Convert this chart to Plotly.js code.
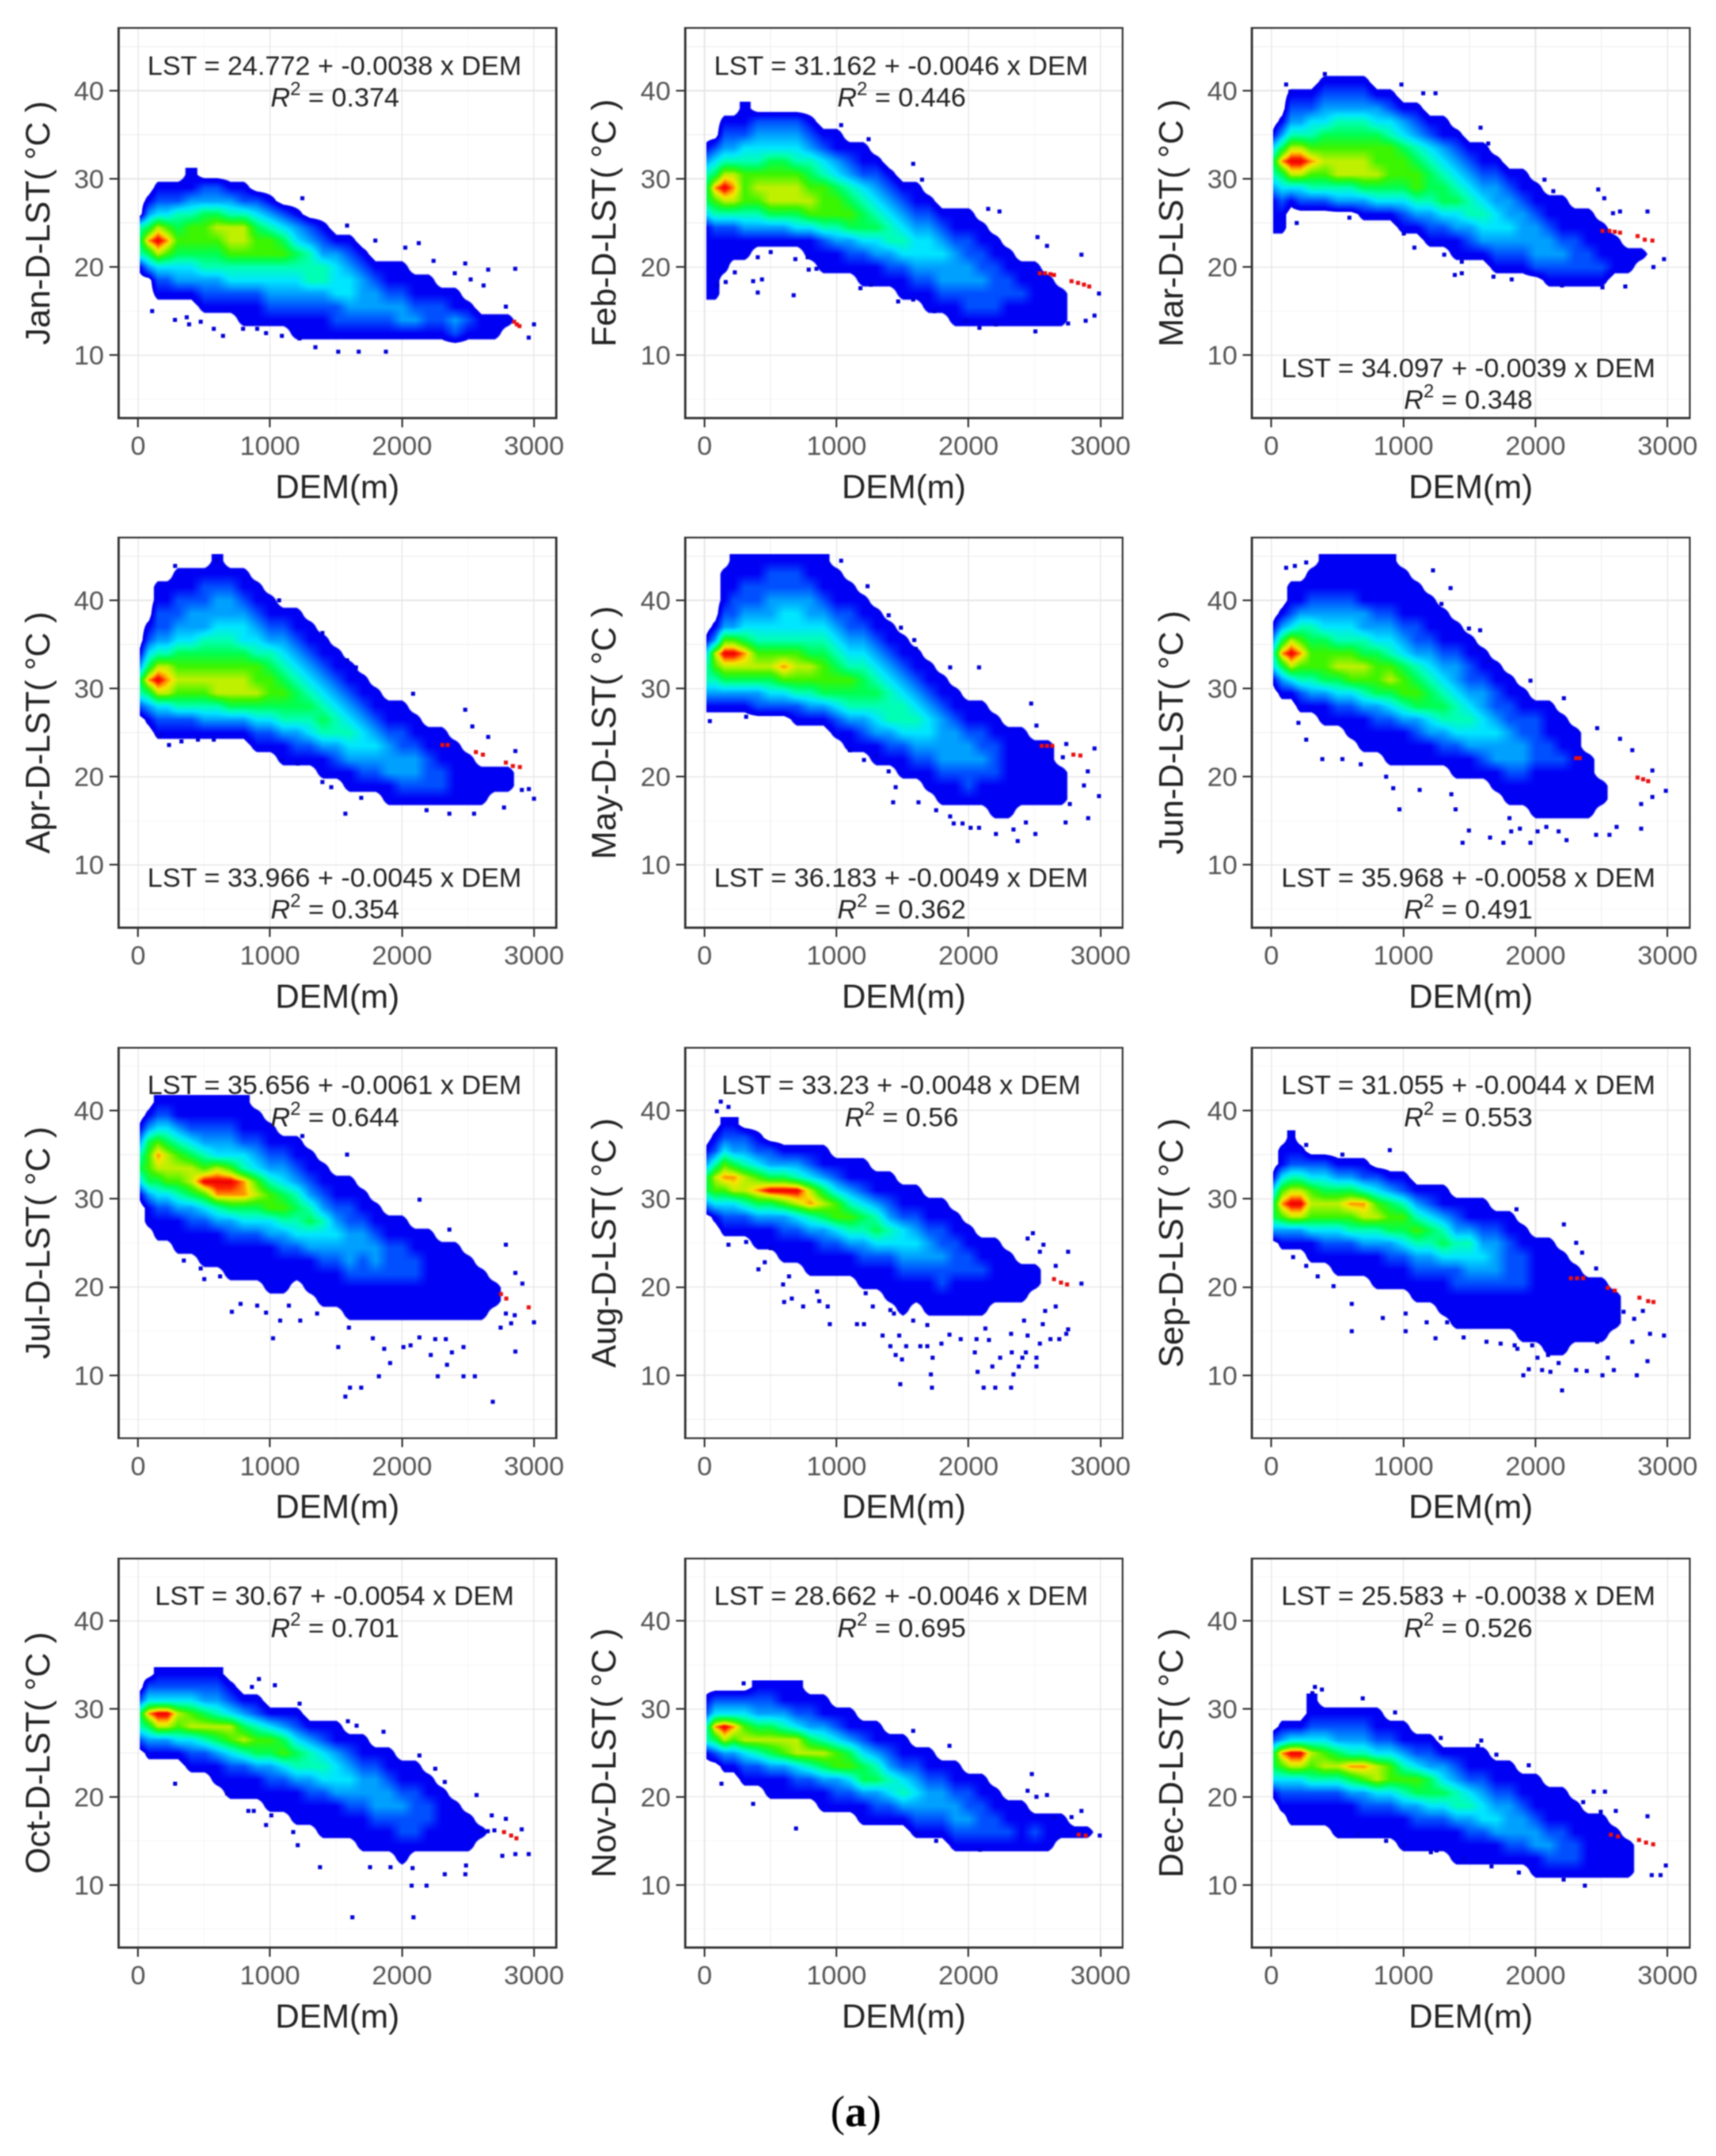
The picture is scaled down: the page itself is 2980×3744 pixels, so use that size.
<!DOCTYPE html>
<html>
<head>
<meta charset="utf-8">
<script src="https://cdn.plot.ly/plotly-3.0.1.min.js"></script>
<style>
  html, body { margin: 0; padding: 0; background: #fff; }
  #plot { width: 2980px; height: 3744px; filter: blur(1px); }
</style>
</head>
<body>
<div id="plot"></div>
<script>
const months = ['Jan', 'Feb', 'Mar', 'Apr', 'May', 'Jun', 'Jul', 'Aug', 'Sep', 'Oct', 'Nov', 'Dec'];
const intercepts = ['24.772', '31.162', '34.097', '33.966', '36.183', '35.968', '35.656', '33.23', '31.055', '30.67', '28.662', '25.583'];
const slopes = ['0.0038', '0.0046', '0.0039', '0.0045', '0.0049', '0.0058', '0.0061', '0.0048', '0.0044', '0.0054', '0.0046', '0.0038'];
const rSquared = ['0.374', '0.446', '0.348', '0.354', '0.362', '0.491', '0.644', '0.56', '0.553', '0.701', '0.695', '0.526'];
const labelLow = [false, false, true, true, true, true, false, false, false, false, false, false];

// density, level 0-a per cell, one string per DEM column, top row first
const demNodes = [15, 80, 150, 220, 300, 400, 500, 600, 700, 800, 900, 1000, 1100, 1200, 1300, 1400, 1500, 1600, 1700, 1800, 1900, 2000, 2100, 2200, 2300, 2400, 2500, 2600, 2700, 2800, 2900, 3000];
const rowStep = 1.5;

const janTop = 30.5;
const janCols = ['00005651', '00136963', '01248a8421', '0124797421', '0125676431', '1135776431', '02367765321', '02368765321', '01358875421', '012588754211', '002467754211', '001357754321', '000246754321', '0001346543211', '0000235553211', '0000123553211', '0000013444221', '0000012344321', '0000001233321', '0000000123321', '0000000112321', '0000000112331', '0000000011231', '0000000011221', '0000000001221', '0000000001132', '0000000000121', '0000000000011', '0000000000011', '000000000001'];

const febTop = 38;
const febCols = ['000135664111111', '000246975211111', '012358a852111', '012358985211', '112457775311', '02345787531', '02346788631', '02346788631', '02345788641', '012356787411', '0012457775211', '0011346775311', '0001235676321', '00011245664211', '00001234564311', '00000123455321', '000000123454211', '000000112344321', '0000000123443211', '0000000012343321', '00000000112333211', '00000000112233221', '00000000011223221', '00000000001122221', '00000000000112211', '00000000000011211', '00000000000011111', '00000000000001111', '00000000000000111'];

const marTop = 42.5;
const marCols = ['0000014653111', '0000136964211', '0012358a841', '0012358a842', '00124579752', '01234678752', '01235678853', '01235678853', '012356788631', '001346778641', '001245777641', '0001346776421', '0001235677531', '00001245665321', '00001134566421', '000001234564311', '000000123455321', '000000112345431', '0000000123344321', '0000000012334321', '0000000011233321', '0000000001123332', '00000000001123321', '00000000001112321', '00000000000112221', '00000000000111221', '00000000000011121', '0000000000000111', '0000000000000011', '000000000000001'];

const aprTop = 44.5;
const aprCols = ['000000013652', '0000012469631', '001122358a8421', '00112235898421', '01122346787521', '01123346787521', '01223356787531', '11233456788531', '01233456788631', '01123446788631', '001123457786421', '000112356776421', '0000123456765311', '0000112345665321', '0000011234565421', '00000011234565311', '00000001123455321', '000000001123454311', '000000000112344321', '000000000011234321', '0000000000011233311', '0000000000011223321', '0000000000001123321', '0000000000000112221', '0000000000000111221', '0000000000000011111', '0000000000000001111', '0000000000000000111', '000000000000000011', '000000000000000011'];

const mayTop = 44.5;
const mayCols = ['000000145531', '000001387531', '0111237a8631', '1112237a8631', '112234698631', '112234578632', '122334578642', '122344579742', '1223445787521', '1123345687531', '1112345677631', '01112345676421', '001122345765311', '000112345665321', '0000112345654311', '0000011234555321', '00000011234554211', '00000001123454321', '000000001123443211', '0000000001123333211', '0000000000112333211', '0000000000011233221', '0000000000011223211', '00000000000011222111', '00000000000001111111', '0000000000000111111', '0000000000000011111', '0000000000000011111', '0000000000000000111'];

const junTop = 44.5;
const junCols = ['0000013541', '00001369631', '0011248a841', '001135797521', '011235677531', '1112346776311', '1112345786421', '11123457874211', '111133568753111', '111123467763211', '1111234578642111', '0111123467753111', '0011122356763211', '0001112345664311', '0000111234565321', '00000112334554211', '00000011223454311', '00000001123344321', '000000001122343311', '0000000001122333211', '0000000000112233211', '00000000000122221111', '00000000000111221111', '00000000000011121111', '00000000000001111111', '00000000000000011111', '0000000000000000011'];

const julTop = 41;
const julCols = ['00135641', '0136776311', '12479864211', '12468874211', '113578753111', '112468863211', '112357a742111', '112348a953111', '112347a9632111', '11124599642111', '01123478642111', '001123577431111', '000123467532111', '00011235654211', '000011235643111', '0000011235432111', '0000001123432111', '00000011223332111', '00000001123322111', '00000000112332111', '00000000011222111', '00000000011222111', '00000000001122111', '00000000001111111', '00000000000111111', '00000000000111111', '00000000000011111', '00000000000001111', '0000000000000011'];

const augTop = 38.5;
const augCols = ['0013663', '01258741', '124797421', '123698421', '023588521', '0124796311', '00236a6311', '00136a73211', '00135a84211', '001248953111', '001136863211', '000124774211', '000113575311', '0001124653211', '0000113564211', '00001123542111', '000001124432111', '00000112343211', '000000112332111', '000000112232211', '000000011222111', '000000001122111', '000000000112111', '00000000011111', '00000000001111', '00000000000111', '0000000000011'];

const sepTop = 37;
const sepCols = ['00014663', '011479731', '11258a831', '01258a831', '0024787411', '0024687421', '00136874211', '00136975211', '00125985311', '000247853111', '000136763211', '000125764211', '0000135753211', '0000124653211', '00001135642111', '000001235422111', '000001135432111', '000001123432111', '000000123332111', '000000112222111', '0000000112221111', '0000000011111111', '00000000111111111', '00000000011111111', '0000000000111111', '0000000000011111', '0000000000011111', '000000000000111'];

const octTop = 34;
const octCols = ['002652', '0249631', '124a831', '124a831', '1248741', '12478421', '12368521', '123586311', '0124874211', '0013685211', '0012576311', '00014763211', '00013674211', '000124653111', '000013553211', '0000124542111', '0000113443111', '0000012343211', '00000112332111', '00000012333211', '00000011233211', '000000011232211', '00000001122221', '00000000112211', '00000000011111', '00000000001111', '00000000000111', '0000000000001'];

const novTop = 32.5;
const novCols = ['012551', '024962', '024a831', '0249731', '02478421', '12368521', '123686311', '113587311', '112488421', '012368521', '0113586311', '0012477321', '0011367421', '00012466311', '00011356321', '00001235421', '00001124531', '000001234321', '000001123321', '000000123321', '0000001123321', '0000000122321', '0000000112221', '0000000011221', '0000000001121', '0000000001111', '0000000000121', '0000000000111', '000000000011', '000000000001', '000000000001'];

const decTop = 31;
const decCols = ['00026641', '001397421', '0014a84211', '0014a84211', '1124875211', '0124785211', '01236852111', '01235963111', '01235973211', '01124884211', '00124774211', '001135753111', '000124763211', '000123664211', '000013464211', '0000123553111', '0000112453211', '0000112344211', '0000011234311', '0000011233321', '0000001123321', '00000011123311', '00000001112321', '00000001112221', '00000000111221', '00000000011111', '00000000011111', '00000000001111', '00000000000111'];

// scattered dots outside the dense cloud
const janDotsX = [107, 280, 369, 387, 475, 574, 644, 796, 903, 970, 1090, 1224, 1344, 1517, 1672, 1878, 2858, 2787, 2960, 3000, 2618, 2479, 2653, 2239, 2127, 1584, 1245, 1798, 2025, 2400, 2520];
const janDotsY = [15, 14, 14.3, 13.5, 13.8, 13, 12.2, 13, 13, 12.5, 12.2, 11.9, 10.9, 10.4, 10.4, 10.4, 19.8, 15.5, 12, 13.5, 17.9, 20.4, 19.7, 20.7, 22.7, 24.7, 27.8, 23, 22.2, 19.3, 18.6];
const febDotsX = [160, 96, 229, 403, 368, 435, 403, 501, 675, 688, 781, 789, 848, 1181, 1261, 1467, 1581, 1741, 1981, 2083, 2208, 2507, 2755, 2888, 2955, 2989, 2856, 2523, 2595, 2235, 2149, 1648, 1581, 1243, 1035];
const febDotsY = [18.3, 17.9, 19.4, 17.1, 18.4, 18.6, 21.1, 21.7, 16.8, 20.9, 21.1, 19.7, 19.8, 17.6, 18, 16.1, 16.3, 15, 13.9, 13.1, 13.5, 12.7, 13.6, 13.9, 14.5, 17, 21.4, 23.4, 22.4, 26.3, 26.6, 29.9, 31.7, 34.5, 36.1];
const marDotsX = [112, 144, 405, 985, 1243, 1150, 1584, 1642, 2068, 2135, 2475, 2521, 2848, 2640, 2587, 2973, 2893, 2680, 2507, 2201, 1820, 1682, 1442, 1389, 1442, 1309, 1083, 1003, 192, 591];
const marDotsY = [40.7, 39.9, 41.9, 40.7, 39.7, 39.7, 35.8, 34, 29.9, 28.6, 28.8, 27.8, 26.3, 26.3, 26.1, 20.9, 20, 17.8, 17.7, 17.9, 18.6, 18.9, 19.3, 19.1, 20.6, 21.4, 22.2, 23.8, 25, 25.6];
const aprDotsX = [281, 596, 1069, 1397, 1584, 1651, 2084, 2479, 2533, 2653, 2859, 3000, 2773, 2546, 2359, 1571, 1691, 1397, 1464, 1090, 1210, 235, 329, 454, 574, 168, 2186, 2908, 2961];
const aprDotsY = [43.9, 44.5, 40, 36.3, 33.2, 32.4, 29.4, 27.6, 25.7, 24.5, 22.9, 17.5, 16.5, 15.8, 15.8, 15.8, 17.6, 19.4, 18.8, 21.9, 21.5, 23.6, 24, 24.2, 24.2, 24.7, 16.2, 18.5, 18.6];
const mayDotsX = [40, 315, 1035, 1235, 1395, 1488, 1589, 1600, 1861, 2080, 2475, 2515, 2955, 2989, 2907, 2507, 2373, 2208, 2341, 2080, 2016, 1888, 1955, 1861, 1429, 1621, 1448, 1395, 1208, 1301, 1101, 2741, 2768, 2736, 2435, 1755, 2904, 2875, 2715];
const mayDotsY = [26.3, 26.8, 44.5, 41.6, 38.3, 36.9, 35.5, 34.5, 32.4, 32.4, 28.3, 25.8, 23.2, 17.8, 15.3, 13.5, 12.7, 13.5, 14, 14.2, 14.2, 14.7, 14.7, 15.5, 17.1, 17.1, 18.8, 20.6, 21.9, 22.4, 23, 23.7, 16.9, 14.8, 14.8, 16.2, 20.6, 19, 22.2];
const junDotsX = [112, 178, 264, 1224, 1357, 1288, 1496, 1581, 1563, 1642, 1962, 2215, 2467, 2640, 2733, 2885, 2987, 2885, 2800, 2800, 2560, 2459, 2235, 1962, 1757, 1656, 1448, 1496, 1395, 970, 1123, 923, 869, 1363, 386, 538, 677, 264, 205, 1882, 1816, 2016, 2082, 2175, 1803, 2614];
const junDotsY = [43.7, 43.9, 44.3, 43.4, 41.4, 39.6, 36.8, 36.6, 34.5, 33.1, 30.9, 28.9, 25.5, 24.3, 23, 20.7, 18.4, 17.7, 16.9, 14.1, 13.4, 13.4, 12.8, 12.5, 12.5, 13.1, 12.5, 13.9, 16.3, 16.3, 18.5, 18.7, 20, 18, 22, 22, 21.4, 24.2, 26.1, 14.1, 13.8, 13.8, 14.3, 13.8, 15.3, 14.3];
const julDotsX = [2133, 1584, 1245, 2359, 2787, 2859, 2912, 3000, 2859, 2688, 2552, 2466, 2271, 2341, 2218, 1910, 1825, 1691, 1606, 1571, 1517, 1023, 1077, 1229, 711, 777, 622, 502, 347, 475, 2011, 1865, 2378, 2466, 1779, 2065, 2132, 2252, 2332, 903, 970, 1143, 1357, 1598, 2787, 2854, 2747, 2827];
const julDotsY = [29.9, 35, 37.1, 26.5, 24.8, 21.6, 20.4, 16, 12.7, 7, 9.9, 9.9, 9.9, 11.2, 12.3, 11.4, 9.9, 8.6, 8.6, 7.6, 13.2, 14.2, 16.2, 16.2, 17.2, 18.1, 21.2, 20.9, 23, 22.1, 13.2, 13, 12.6, 13.2, 14.2, 13.4, 14.3, 14.1, 14.1, 17.9, 17.1, 17.9, 17, 15.4, 17, 16.8, 15.4, 15.9];
const augDotsX = [123, 181, 93, 181, 315, 408, 456, 501, 595, 640, 603, 661, 747, 853, 869, 933, 949, 1155, 1208, 1221, 1275, 1349, 1408, 1448, 1496, 1483, 1528, 1635, 1688, 1475, 1715, 1723, 1728, 1795, 1856, 1941, 2048, 2069, 2115, 2203, 2323, 2341, 2181, 2381, 2240, 2328, 2435, 2515, 2515, 2408, 2448, 2541, 2621, 2688, 2741, 2755, 2563, 2661, 2581, 2856, 2755, 2568, 2488, 2448, 2541, 2661, 2061, 2155, 2323, 2128, 2421, 1435, 1581, 1688, 1408];
const augDotsY = [41, 40.4, 39.9, 24.8, 25.1, 22, 22.8, 24.4, 20.3, 21.2, 18.3, 18.7, 17.8, 19.5, 18.4, 17.8, 15.8, 15.8, 15.8, 19.3, 17.8, 14.5, 13.3, 12.3, 11.8, 9, 13.3, 13.3, 13.3, 14.5, 10.1, 8.6, 12, 13.6, 14.6, 14.1, 12.6, 10.4, 8.6, 8.6, 8.6, 10.1, 11, 11, 12, 12.6, 12.6, 12, 11, 12, 14.5, 13.6, 14.1, 14.1, 14.7, 15.2, 15.8, 17.8, 17.3, 20.4, 24, 24.8, 26.1, 25.5, 24, 22.4, 14.1, 14, 14.7, 15.3, 16.2, 17, 16.2, 15.7, 17.4];
const sepDotsX = [264, 538, 897, 1856, 2215, 2308, 2353, 2459, 165, 264, 351, 471, 609, 609, 844, 1017, 1017, 1176, 1243, 1331, 1456, 1629, 1863, 1908, 1949, 2050, 2113, 2201, 2507, 2593, 2767, 2848, 2547, 2388, 2308, 2973, 2867, 2733, 2747, 2813, 2667, 2467, 2175, 2095, 2015, 1842, 1736, 1975];
const sepDotsY = [36.1, 35, 35.5, 28.8, 27.1, 25, 23.9, 22.1, 23.4, 22.4, 21.2, 20.1, 18.1, 15, 16.5, 17, 15, 16, 14.2, 16, 14.3, 13.8, 13, 10, 10.7, 10.6, 10.4, 8.3, 10, 10.6, 10, 11.6, 12, 10.5, 10.6, 14.5, 14.7, 13.8, 16.4, 17.3, 17.2, 13.8, 11.4, 12.3, 12, 13.4, 13.6, 13.4];
const octDotsX = [281, 916, 863, 1037, 1224, 1590, 1656, 1860, 2132, 2252, 2324, 2565, 2680, 2787, 2907, 2960, 2859, 2760, 2485, 2480, 2324, 2186, 2073, 2087, 1624, 1758, 1913, 2080, 1379, 1176, 1210, 970, 1010, 836, 877, 676, 2600, 2650, 2700];
const octDotsY = [21.5, 33.4, 32.5, 32.7, 30.6, 28.6, 28.1, 27.4, 24.7, 23.2, 21.7, 20.2, 17.9, 17.5, 16.3, 13.5, 13.5, 13.3, 12.2, 11.2, 11.2, 9.9, 9.9, 6.3, 6.3, 12, 12, 11.9, 12, 16, 14.5, 16.8, 17.9, 18.4, 18.4, 20.4, 16.1, 16.1, 16.2];
const novDotsX = [296, 128, 368, 693, 1856, 1581, 2480, 2448, 2595, 2515, 2648, 2856, 2781, 2995, 2088, 1755, 1608];
const novDotsY = [32.9, 21.5, 19.2, 16.4, 25.8, 27.5, 22.6, 20.7, 20.2, 20, 17.6, 18.4, 17.7, 15.6, 14, 15, 15.8];
const decDotsX = [330, 383, 311, 692, 937, 1283, 1589, 1563, 1704, 1949, 2441, 2526, 2361, 2494, 2608, 2848, 2987, 2880, 2947, 2374, 2213, 1874, 1667, 1456, 1208, 1251, 1003, 869, 657];
const decDotsY = [32.5, 32.2, 31.8, 31.2, 29.6, 26.7, 26.4, 25.8, 24.8, 23.6, 20.6, 20.6, 19.4, 18.3, 18.4, 17.8, 12.2, 11.1, 11.1, 9.9, 10.6, 11.4, 12.1, 13, 13.7, 13.9, 14.5, 15, 15.7];

// small red streaks at the high end
const janRedX = [2850, 2870, 2890];
const janRedY = [13.8, 13.5, 13.3];
const febRedX = [2541, 2580, 2620, 2648, 2781, 2830, 2875, 2915];
const febRedY = [19.3, 19.3, 19.2, 19.1, 18.4, 18.2, 18, 17.8];
const marRedX = [2507, 2560, 2600, 2640, 2773, 2827, 2885];
const marRedY = [24.1, 24.1, 24, 23.9, 23.5, 23.1, 23];
const aprRedX = [2306, 2346, 2560, 2613, 2787, 2840, 2893];
const aprRedY = [23.6, 23.6, 22.8, 22.5, 21.6, 21.2, 21.1];
const mayRedX = [2555, 2595, 2635, 2795, 2848];
const mayRedY = [23.5, 23.5, 23.5, 22.5, 22.4];
const junRedX = [2308, 2335, 2773, 2815, 2853];
const junRedY = [22.1, 22.1, 19.9, 19.7, 19.5];
const julRedX = [2750, 2790, 2960];
const julRedY = [19.2, 18.7, 17.7];
const augRedX = [2648, 2701, 2747];
const augRedY = [20.9, 20.5, 20.3];
const sepRedX = [2268, 2315, 2361, 2547, 2600, 2787, 2853, 2893];
const sepRedY = [21, 21, 21, 19.9, 19.6, 18.8, 18.4, 18.3];
const octRedX = [2773, 2827, 2867];
const octRedY = [16, 15.6, 15.3];
const novRedX = [2835, 2888];
const novRedY = [15.7, 15.6];
const decRedX = [2571, 2624, 2784, 2837, 2891];
const decRedY = [15.7, 15.5, 15.1, 14.8, 14.6];

const tops = [janTop, febTop, marTop, aprTop, mayTop, junTop, julTop, augTop, sepTop, octTop, novTop, decTop];
const allCols = [janCols, febCols, marCols, aprCols, mayCols, junCols, julCols, augCols, sepCols, octCols, novCols, decCols];
const allDotsX = [janDotsX, febDotsX, marDotsX, aprDotsX, mayDotsX, junDotsX, julDotsX, augDotsX, sepDotsX, octDotsX, novDotsX, decDotsX];
const allDotsY = [janDotsY, febDotsY, marDotsY, aprDotsY, mayDotsY, junDotsY, julDotsY, augDotsY, sepDotsY, octDotsY, novDotsY, decDotsY];
const allRedX = [janRedX, febRedX, marRedX, aprRedX, mayRedX, junRedX, julRedX, augRedX, sepRedX, octRedX, novRedX, decRedX];
const allRedY = [janRedY, febRedY, marRedY, aprRedY, mayRedY, junRedY, julRedY, augRedY, sepRedY, octRedY, novRedY, decRedY];

const W = 2980, H = 3744;
const colEdges = [[207.6, 964], [1191.5, 1947.7], [2175.7, 2932.6]];
const rowEdges = [[50.3, 724], [935.4, 1609], [1821, 2495.7], [2708, 3380]];

const densityScale = [
  [0, 'rgba(0,0,255,0)'], [0.05, 'rgba(0,0,255,0)'], [0.06, 'rgb(0,0,240)'], [0.1, 'rgb(0,0,245)'],
  [0.2, 'rgb(0,80,255)'], [0.3, 'rgb(0,160,255)'], [0.4, 'rgb(0,230,255)'], [0.5, 'rgb(0,255,180)'],
  [0.6, 'rgb(0,255,80)'], [0.7, 'rgb(60,245,0)'], [0.8, 'rgb(190,240,0)'], [0.85, 'rgb(245,230,0)'],
  [0.9, 'rgb(255,150,0)'], [0.95, 'rgb(255,40,0)'], [1, 'rgb(240,0,0)']
];

const sans = '"Liberation Sans", Arial, sans-serif';

// columns come per DEM node, heatmap wants rows
function buildGrid(cols, top) {
  const nRows = Math.max(...cols.map(c => c.length)) + 1;
  const y = [];
  for (let r = 0; r < nRows; r++) y.push(top - r * rowStep);
  const z = y.map((_, r) => {
    const row = [0];
    demNodes.forEach((_, c) => {
      const s = cols[c] || '';
      row.push(r < s.length ? parseInt(s[r], 16) : 0);
    });
    return row;
  });
  return { x: [demNodes[0] - 1, ...demNodes], y, z };
}

const traces = [];
const layout = {
  width: W, height: H, margin: { l: 0, r: 0, t: 0, b: 0 },
  paper_bgcolor: '#fff', plot_bgcolor: '#fff', showlegend: false,
  font: { family: sans, size: 47, color: '#222' },
  annotations: [{
    xref: 'paper', yref: 'paper', x: 1486 / W, y: 1 - 3666 / H, xanchor: 'center', yanchor: 'middle',
    showarrow: false, text: '(<b>a</b>)', font: { family: '"Liberation Serif", serif', size: 76, color: '#000' }
  }]
};

months.forEach((m, i) => {
  const col = i % 3, row = Math.floor(i / 3);
  const n = i === 0 ? '' : String(i + 1);
  const xRef = 'x' + n, yRef = 'y' + n;
  const grid = buildGrid(allCols[i], tops[i]);

  traces.push({
    type: 'heatmap', x: grid.x, y: grid.y, z: grid.z, xaxis: xRef, yaxis: yRef,
    zmin: 0, zmax: 10, zsmooth: 'best', colorscale: densityScale, showscale: false, hoverinfo: 'skip'
  });
  traces.push({
    type: 'scatter', mode: 'markers', x: allDotsX[i], y: allDotsY[i], xaxis: xRef, yaxis: yRef,
    marker: { symbol: 'square', size: 7, color: '#0000d8' }, hoverinfo: 'skip'
  });
  traces.push({
    type: 'scatter', mode: 'markers', x: allRedX[i], y: allRedY[i], xaxis: xRef, yaxis: yRef,
    marker: { symbol: 'square', size: 7, color: '#e81010' }, hoverinfo: 'skip'
  });

  layout['xaxis' + n] = {
    domain: [colEdges[col][0] / W, colEdges[col][1] / W], anchor: yRef,
    range: [-140, 3160], dtick: 1000, tick0: 0, ticks: 'outside', ticklen: 14, tickwidth: 3, tickcolor: '#333',
    tickfont: { family: sans, size: 47, color: '#555' }, ticklabelstandoff: -8,
    showline: true, mirror: true, linecolor: '#333', linewidth: 3.5,
    showgrid: true, gridcolor: '#e8e8e8', gridwidth: 2.2, zeroline: false,
    minor: { dtick: 500, tick0: 0, showgrid: true, gridcolor: '#f2f2f2', gridwidth: 1.5, ticks: '' },
    title: { text: 'DEM(m)', font: { family: sans, size: 58, color: '#222' }, standoff: 26 }
  };
  layout['yaxis' + n] = {
    domain: [1 - rowEdges[row][1] / H, 1 - rowEdges[row][0] / H], anchor: xRef,
    range: [3, 47], dtick: 10, tick0: 0, ticks: 'outside', ticklen: 14, tickwidth: 3, tickcolor: '#333',
    tickfont: { family: sans, size: 47, color: '#555' },
    showline: true, mirror: true, linecolor: '#333', linewidth: 3.5,
    showgrid: true, gridcolor: '#e8e8e8', gridwidth: 2.2, zeroline: false,
    minor: { dtick: 5, tick0: 0, showgrid: true, gridcolor: '#f2f2f2', gridwidth: 1.5, ticks: '' },
    title: { text: m + '-D-LST( °C )', font: { family: sans, size: 59, color: '#222' }, standoff: 24 }
  };

  const eqY = labelLow[i] ? 8.6 : 42.9;
  const r2Y = labelLow[i] ? 5.2 : 39.5;
  layout.annotations.push({
    xref: xRef, yref: yRef, x: 1490, y: eqY, showarrow: false, xanchor: 'center', yanchor: 'middle',
    text: 'LST = ' + intercepts[i] + ' + -' + slopes[i] + ' x DEM', font: { family: sans, size: 47, color: '#222' }
  });
  layout.annotations.push({
    xref: xRef, yref: yRef, x: 1490, y: r2Y, showarrow: false, xanchor: 'center', yanchor: 'middle',
    text: '<i>R</i><sup>2</sup> = ' + rSquared[i], font: { family: sans, size: 47, color: '#222' }
  });
});

Plotly.newPlot('plot', traces, layout, { staticPlot: true, displayModeBar: false });
</script>
</body>
</html>
